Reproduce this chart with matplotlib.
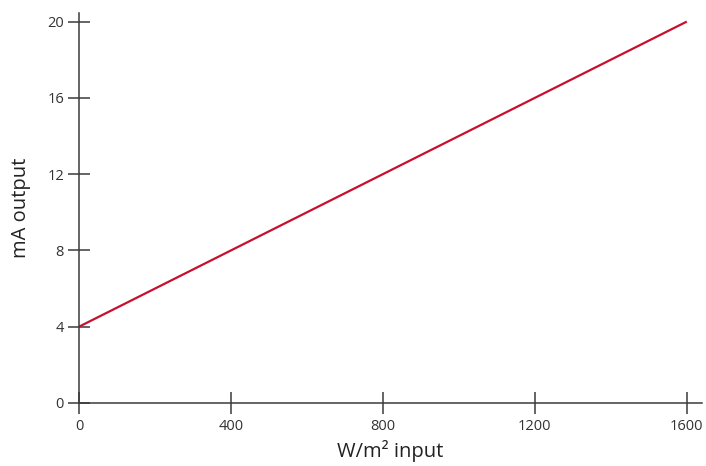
import numpy as np
import matplotlib
matplotlib.use("Agg")
from matplotlib import pyplot as plt

plt.rcParams['font.family'] = ['Open Sans', 'DejaVu Sans']

# irradiance input vs current output
irradiance = [0, 1600]
current_ma = [4, 20]
x_ticks = [0, 400, 800, 1200, 1600]
y_ticks = [0, 4, 8, 12, 16, 20]

axis_col = '#3a3a3a'
text_col = '#333333'

fig = plt.figure(figsize=(7.06, 4.66), dpi=100)
ax = fig.add_axes([79 / 706, 1 - 403 / 466, (702 - 79) / 706, (403 - 13) / 466])

ax.plot(irradiance, current_ma, color='#c8102e', lw=1.6, solid_capstyle='butt')

ax.set_xlim(0, 1640)
ax.set_ylim(0, 20.45)
ax.set_xticks(x_ticks)
ax.set_yticks(y_ticks)

for side in ['top', 'right']:
    ax.spines[side].set_visible(False)
for side in ['left', 'bottom']:
    ax.spines[side].set_color(axis_col)
    ax.spines[side].set_linewidth(1.1)

ax.tick_params(direction='inout', length=15.5, width=1.1, color=axis_col,
               labelsize=10.5, labelcolor=text_col, pad=3)
ax.tick_params(axis='x', pad=4)

ax.set_xlabel('W/m² input', fontsize=14.5, color='#222222', labelpad=4)
ax.set_ylabel('mA output', fontsize=14.5, color='#222222', labelpad=12)

fig.savefig('out.png', dpi=100)
